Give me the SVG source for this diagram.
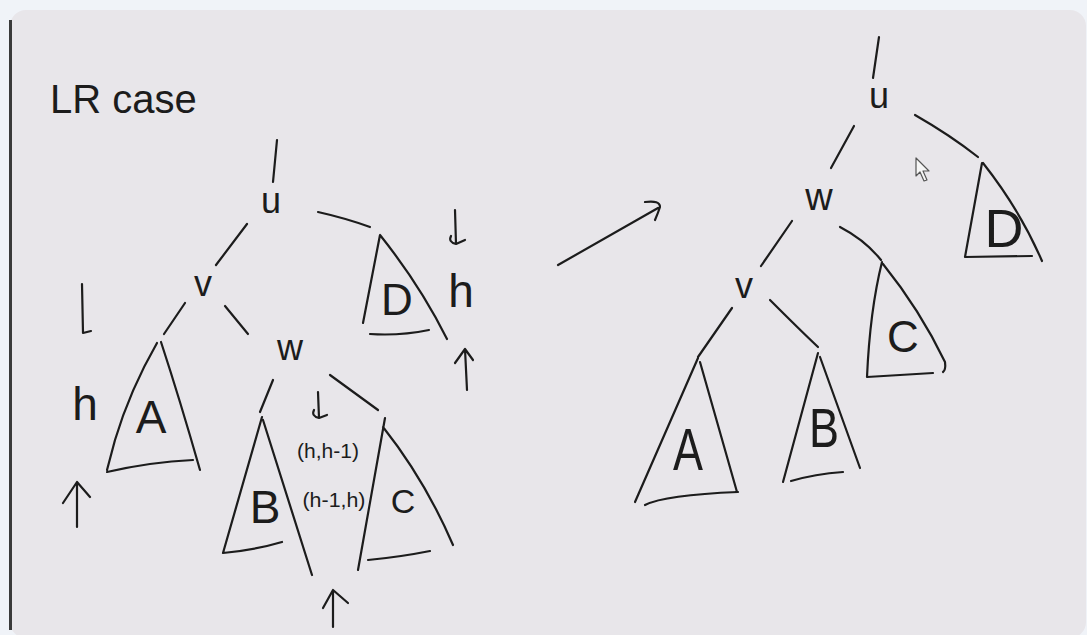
<svg xmlns="http://www.w3.org/2000/svg" width="1087" height="635" viewBox="0 0 1087 635">
<style>
.s{fill:none;stroke:#1c1c1c;stroke-width:2.2;stroke-linecap:round;stroke-linejoin:round}
.t{font-family:"Liberation Sans","DejaVu Sans",Arial,sans-serif;fill:#1c1c1c;text-anchor:middle}
</style>
<rect x="0" y="0" width="1087" height="635" fill="#f0f3f8"/>
<rect x="10" y="10" width="1076" height="628" rx="16" fill="#e8e6ea"/>
<path d="M10.5,20 L10.5,630" stroke="#3a3a3a" stroke-width="3" fill="none"/>
<text x="50" y="113" font-family="Liberation Sans, DejaVu Sans, sans-serif" font-size="40" fill="#1c1c1c">LR case</text>

<g id="connectors">
  <path class="s" d="M277,140 L273,182"/>
  <path class="s" d="M247,224 L216,265"/>
  <path class="s" d="M318,212 Q345,218 370,227"/>
  <path class="s" d="M185,303 L164,334"/>
  <path class="s" d="M225,306 L248,334"/>
  <path class="s" d="M273,380 L260,412"/>
  <path class="s" d="M330,375 L378,410"/>
  <path class="s" d="M879,37 L873,78"/>
  <path class="s" d="M854,126 L831,168"/>
  <path class="s" d="M915,115 Q950,135 978,157"/>
  <path class="s" d="M792,221 L761,266"/>
  <path class="s" d="M840,227 Q865,240 881,260"/>
  <path class="s" d="M732,308 L698,357"/>
  <path class="s" d="M770,300 Q800,330 818,347"/>
  <path class="s" d="M558,265 L658,208 M645,202 Q660,200 660,207 Q658,213 655,220"/>
</g>

<g id="annotations">
  <path class="s" d="M82,284 L83,333 L91,331"/>
  <text class="t" x="85" y="420" font-size="46">h</text>
  <path class="s" d="M77,527 L77,483 M63,503 L77,482 L90,497"/>
  <path class="s" d="M455,210 L456,244 L465,240 M456,244 Q448,242 451,236"/>
  <text class="t" x="461" y="307" font-size="46">h</text>
  <path class="s" d="M467,390 L465,349 M455,363 L465,349 L473,360"/>
  <path class="s" d="M318,392 L319,418 L327,415 M319,418 Q311,416 314,410"/>
  <text class="t" x="328" y="458" font-size="21" textLength="62" lengthAdjust="spacingAndGlyphs">(h,h-1)</text>
  <text class="t" x="334" y="507" font-size="21" textLength="63" lengthAdjust="spacingAndGlyphs">(h-1,h)</text>
  <path class="s" d="M333,627 L333,590 M323,608 L333,590 L348,603"/>
  <polygon points="916,158 916,176 920,172 924,181 927,180 923,171 929,171" fill="#f6f6f6" stroke="#555" stroke-width="1.2" stroke-linejoin="round"/>
</g>

<g id="L-u"><text class="t" x="271" y="213" font-size="36">u</text></g>
<g id="L-v"><text class="t" x="203" y="296" font-size="36">v</text></g>
<g id="L-w"><text class="t" x="290" y="360" font-size="36">w</text></g>
<g id="L-D">
  <path class="s" d="M380,235 L363,323 M380,235 Q420,285 447,339 M370,334 Q400,336 429,330"/>
  <text class="t" x="397" y="315" font-size="44">D</text>
</g>
<g id="L-A">
  <path class="s" d="M157,343 Q130,390 115,440 L107,470 M161,342 Q180,400 200,470 M107,472 Q150,462 193,460"/>
  <text class="t" x="151" y="433" font-size="46">A</text>
</g>
<g id="L-B">
  <path class="s" d="M262,417 L223,553 M263,420 L312,575 M223,553 Q255,550 282,542"/>
  <text class="t" x="265" y="523" font-size="46">B</text>
</g>
<g id="L-C">
  <path class="s" d="M385,418 L358,570 M383,427 Q425,480 453,545 M368,560 Q400,557 430,551"/>
  <text class="t" x="403" y="513" font-size="34">C</text>
</g>

<g id="R-u"><text class="t" x="879" y="108" font-size="36">u</text></g>
<g id="R-w"><text class="t" x="819" y="210" font-size="38">w</text></g>
<g id="R-v"><text class="t" x="744" y="298" font-size="36">v</text></g>
<g id="R-D">
  <path class="s" d="M982,163 L965,257 M983,163 Q1020,210 1042,261 M965,257 L1032,256"/>
  <text class="t" x="1004" y="247" font-size="54">D</text>
</g>
<g id="R-C">
  <path class="s" d="M882,262 Q870,310 867,377 M883,264 Q920,310 945,362 Q946,370 943,372 M867,377 L933,373"/>
  <text class="t" x="903" y="352" font-size="44">C</text>
</g>
<g id="R-A">
  <path class="s" d="M698,358 L635,502 M700,362 L737,492 M645,505 Q665,495 738,492"/>
  <text class="t" x="688" y="470" font-size="60" textLength="30" lengthAdjust="spacingAndGlyphs">A</text>
</g>
<g id="R-B">
  <path class="s" d="M818,353 L783,482 M820,357 L860,468 M791,481 Q815,474 843,472"/>
  <text class="t" x="824" y="447" font-size="56" textLength="30" lengthAdjust="spacingAndGlyphs">B</text>
</g>
</svg>
